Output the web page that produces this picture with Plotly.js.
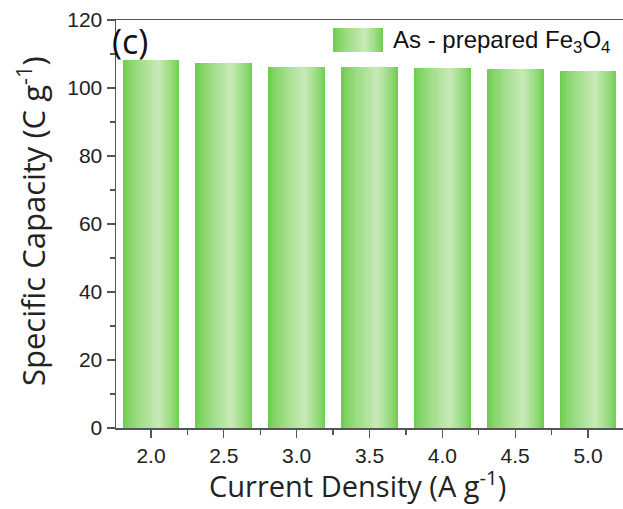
<!DOCTYPE html>
<html>
<head>
<meta charset="utf-8">
<script src="https://cdn.plot.ly/plotly-3.0.1.min.js"></script>
<style>html,body{margin:0;padding:0;background:#fff;}#chart{width:623px;height:509px;}</style>
</head>
<body>
<div id="chart"></div>
<script>
// Data
const currentDensity = [2.0, 2.5, 3.0, 3.5, 4.0, 4.5, 5.0];
const tickLabels = ["2.0", "2.5", "3.0", "3.5", "4.0", "4.5", "5.0"];
const specificCapacity = [108.1, 107.4, 106.1, 106.2, 105.8, 105.5, 105.0];
const seriesName = "As - prepared Fe<sub>3</sub>O<sub>4</sub>";
const xTitle = "Current Density (A g<sup>-1</sup>)";
const yTitle = "Specific Capacity (C g<sup>-1</sup>)";
const panelLabel = "(c)";

// Gradient styling (built with overlaid bars of decreasing width)
const edgeColor = [110, 207, 78];
const peakColor = [203, 234, 187];
const nLayers = 14;
const fullWidth = 0.39;
const peakFrac = 0.63;

function mix(a, b, t) {
  return 'rgb(' + a.map((v, i) => Math.round(v + (b[i] - v) * t)).join(',') + ')';
}

const traces = [];
const half = fullWidth / 2;
const peakPos = -half + peakFrac * fullWidth;
for (let i = 0; i < nLayers; i++) {
  const t = i / nLayers;
  const left = -half + t * (peakPos + half);
  const right = half - t * (half - peakPos);
  traces.push({
    type: 'bar',
    x: currentDensity,
    y: specificCapacity,
    width: currentDensity.map(() => right - left),
    offset: currentDensity.map(() => left),
    marker: {color: mix(edgeColor, peakColor, Math.pow(t, 0.8)), line: {width: 0}},
    showlegend: false,
    hoverinfo: i === 0 ? 'x+y' : 'skip',
    name: seriesName
  });
}

// Legend swatch (decoration, paper coordinates)
const W = 623, H = 509, ml = 116, mr = 0, mt = 20, mb = 81;
const pw = W - ml - mr, ph = H - mt - mb;
const px = v => (v - ml) / pw;
const py = v => 1 - (v - mt) / ph;
const shapes = [];
const sw = {x0: 333, x1: 383, y0: 28, y1: 52};
const swPeak = sw.x0 + peakFrac * (sw.x1 - sw.x0);
for (let i = 0; i < nLayers; i++) {
  const t = i / nLayers;
  const l = sw.x0 + t * (swPeak - sw.x0);
  const r = sw.x1 - t * (sw.x1 - swPeak);
  shapes.push({
    type: 'rect', xref: 'paper', yref: 'paper',
    x0: px(l), x1: px(r), y0: py(sw.y1), y1: py(sw.y0),
    fillcolor: mix(edgeColor, peakColor, Math.pow(t, 0.8)),
    line: {width: 0}, layer: 'above'
  });
}

const axisColor = '#555';
const tickFont = {size: 21, family: 'Liberation Sans, Arial, sans-serif', color: '#222'};
const layout = {
  width: W, height: H,
  margin: {l: ml, r: mr, t: mt, b: mb},
  paper_bgcolor: '#fff', plot_bgcolor: '#fff',
  barmode: 'overlay',
  bargap: 0,
  showlegend: false,
  font: {family: 'Liberation Sans, Arial, sans-serif', color: '#222'},
  xaxis: {
    range: [1.7597, 5.2403],
    tickvals: currentDensity,
    ticktext: tickLabels,
    ticks: 'outside', ticklen: 8, tickwidth: 1.3, tickcolor: axisColor,
    minor: {tick0: 2.25, dtick: 0.5, ticks: 'outside', ticklen: 5, tickwidth: 1.2, tickcolor: axisColor},
    showline: true, linecolor: axisColor, linewidth: 1.5, mirror: true,
    showgrid: false, zeroline: false,
    tickfont: tickFont
  },
  yaxis: {
    range: [0, 120],
    dtick: 20,
    ticks: 'outside', ticklen: 8, tickwidth: 1.3, tickcolor: axisColor,
    minor: {dtick: 10, ticks: 'outside', ticklen: 5, tickwidth: 1.2, tickcolor: axisColor},
    showline: true, linecolor: axisColor, linewidth: 1.5,
    showgrid: false, zeroline: false,
    tickfont: tickFont
  },
  shapes: shapes,
  annotations: [
    {text: panelLabel, xref: 'paper', yref: 'paper', x: px(110), y: py(16), xanchor: 'left', yanchor: 'top',
     showarrow: false, font: {size: 34, family: 'Open Sans, sans-serif', color: '#111'}},
    {text: seriesName, xref: 'paper', yref: 'paper', x: px(391), y: py(41), xanchor: 'left', yanchor: 'middle',
     showarrow: false, font: {size: 24, family: 'Liberation Sans, Arial, sans-serif', color: '#111'}},
    {text: xTitle, xref: 'paper', yref: 'paper', x: px(357), y: py(507), xanchor: 'center', yanchor: 'bottom',
     showarrow: false, font: {size: 29, family: 'Open Sans, sans-serif', color: '#222'}},
    {text: yTitle, xref: 'paper', yref: 'paper', x: px(31), y: py(221), xanchor: 'center', yanchor: 'middle',
     textangle: -90, showarrow: false, font: {size: 31, family: 'Open Sans, sans-serif', color: '#222'}}
  ]
};

Plotly.newPlot('chart', traces, layout, {displayModeBar: false, staticPlot: true});
</script>
</body>
</html>
